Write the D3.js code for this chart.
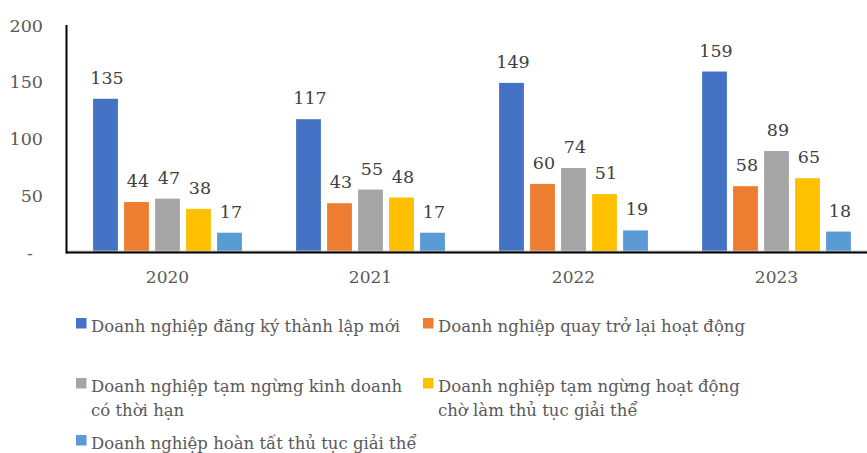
<!DOCTYPE html>
<html>
<head>
<meta charset="utf-8">
<script src="https://cdn.jsdelivr.net/npm/d3@7"></script>
<style>
  body { margin: 0; background: #fff; }
</style>
</head>
<body>
<svg id="chart" width="867" height="453"></svg>
<script>
// data
var years = ["2020", "2021", "2022", "2023"];
var seriesNames = [
  "Doanh nghiệp đăng ký thành lập mới",
  "Doanh nghiệp quay trở lại hoạt động",
  "Doanh nghiệp tạm ngừng kinh doanh có thời hạn",
  "Doanh nghiệp tạm ngừng hoạt động chờ làm thủ tục giải thể",
  "Doanh nghiệp hoàn tất thủ tục giải thể"
];
var dangKyMoi   = [135, 117, 149, 159];
var quayTroLai  = [44, 43, 60, 58];
var tamNgungKD  = [47, 55, 74, 89];
var choGiaiThe  = [38, 48, 51, 65];
var hoanTatGT   = [17, 17, 19, 18];
var yTicks = [0, 50, 100, 150, 200];
var colors = ["#4472C4", "#ED7D31", "#A5A5A5", "#FFC000", "#5B9BD5"];

var allSeries = [dangKyMoi, quayTroLai, tamNgungKD, choGiaiThe, hoanTatGT];
var serif = "DejaVu Serif";
var fs = 16.5;     // legend
var fsNum = 17.5;  // numbers

var svg = d3.select("#chart");

var x0 = d3.scaleBand().domain(years).range([66, 878]);
var x1 = d3.scaleBand().domain(d3.range(seriesNames.length))
    .range([0, x0.bandwidth()]).paddingInner(0.2).paddingOuter(0.874);
var y = d3.scaleLinear().domain([0, 200]).range([252, 25]);

// y tick labels, no tick lines
svg.append("g").selectAll("text")
  .data(yTicks)
  .join("text")
    .attr("x", function(d) { return d === 0 ? 33 : 43; })
    .attr("y", function(d) { return y(d) + 6.5; })
    .attr("text-anchor", "end")
    .attr("font-family", serif)
    .attr("font-size", fsNum)
    .attr("fill", "#595959")
    .text(function(d) { return d === 0 ? "-" : d; });

// bars
var groups = svg.append("g").selectAll("g")
  .data(years)
  .join("g")
    .attr("transform", function(d) { return "translate(" + x0(d) + ",0)"; });

groups.each(function(yr, i) {
  var g = d3.select(this);
  var vals = allSeries.map(function(s, k) { return {k: k, v: s[i]}; });
  g.selectAll("rect")
    .data(vals)
    .join("rect")
      .attr("x", function(d) { return x1(d.k); })
      .attr("y", function(d) { return y(d.v); })
      .attr("width", x1.bandwidth())
      .attr("height", function(d) { return y(0) - y(d.v); })
      .attr("fill", function(d) { return colors[d.k]; });
  g.selectAll("text")
    .data(vals)
    .join("text")
      .attr("x", function(d) { return x1(d.k) + x1.bandwidth() / 2 + 1.5; })
      .attr("y", function(d) { return y(d.v) - 15; })
      .attr("text-anchor", "middle")
      .attr("font-family", serif)
      .attr("font-size", fsNum)
      .attr("fill", "#404040")
      .text(function(d) { return d.v; });
});

// axes lines
svg.append("line")
  .attr("x1", 66).attr("x2", 867)
  .attr("y1", 251).attr("y2", 251)
  .attr("stroke", "#bfbfbf").attr("stroke-width", 1);
svg.append("line")
  .attr("x1", 66).attr("x2", 867)
  .attr("y1", 252.5).attr("y2", 252.5)
  .attr("stroke", "#000").attr("stroke-width", 2);
svg.append("line")
  .attr("x1", 66.5).attr("x2", 66.5)
  .attr("y1", 25).attr("y2", 253.5)
  .attr("stroke", "#000").attr("stroke-width", 2);

// year labels
svg.append("g").selectAll("text")
  .data(years)
  .join("text")
    .attr("x", function(d) { return x0(d) + x0.bandwidth() / 2; })
    .attr("y", 283)
    .attr("text-anchor", "middle")
    .attr("font-family", serif)
    .attr("font-size", 17)
    .attr("fill", "#595959")
    .text(function(d) { return d; });

// legend, hand placed like the original
var legendPos = [
  {x: 76, y: 332, lines: ["Doanh nghiệp đăng ký thành lập mới"]},
  {x: 423, y: 332, lines: ["Doanh nghiệp quay trở lại hoạt động"]},
  {x: 76, y: 392, lines: ["Doanh nghiệp tạm ngừng kinh doanh", "có thời hạn"]},
  {x: 423, y: 392, lines: ["Doanh nghiệp tạm ngừng hoạt động", "chờ làm thủ tục giải thể"]},
  {x: 76, y: 449, lines: ["Doanh nghiệp hoàn tất thủ tục giải thể"]}
];

var legend = svg.append("g").selectAll("g")
  .data(legendPos)
  .join("g");

legend.append("rect")
  .attr("x", function(d) { return d.x; })
  .attr("y", function(d) { return d.y - 14; })
  .attr("width", 10.5).attr("height", 10.5)
  .attr("fill", function(d, i) { return colors[i]; });

legend.append("text")
  .attr("font-family", serif)
  .attr("font-size", fs)
  .attr("fill", "#595959")
  .each(function(d) {
    var t = d3.select(this);
    d.lines.forEach(function(line, j) {
      t.append("tspan")
        .attr("x", d.x + 15)
        .attr("y", d.y + j * 23.5)
        .text(line);
    });
  });
</script>
</body>
</html>
